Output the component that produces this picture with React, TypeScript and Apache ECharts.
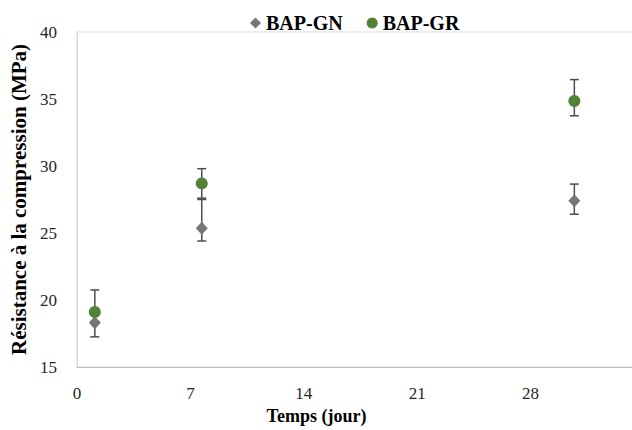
import React, { useEffect, useRef } from "react";
import * as echarts from "echarts";

const days = [1.1, 7.7, 30.7];
const xTicks = [0, 7, 14, 21, 28, 35];
const gnValues = [18.3, 25.35, 27.4];
const gnLow = [17.25, 24.4, 26.4];
const gnHigh = [19.0, 27.5, 28.65];
const grValues = [19.1, 28.7, 34.85];
const grLow = [18.4, 27.6, 33.75];
const grHigh = [20.75, 29.8, 36.45];

const FONT = "'Liberation Serif', 'DejaVu Serif', serif";
const GN_COLOR = "#777777";
const GR_COLOR = "#538135";
const ERR_COLOR = "#4d4d4d";

function errSeries(name: string, low: number[], high: number[]) {
  return {
    type: "custom",
    name: name + "-err",
    z: 1,
    silent: true,
    data: days.map((d, i) => [d, low[i], high[i]]),
    renderItem: (params: any, api: any) => {
      const lo = api.coord([api.value(0), api.value(1)]);
      const hi = api.coord([api.value(0), api.value(2)]);
      const w = 4.5;
      const style = { stroke: ERR_COLOR, lineWidth: 1.5 };
      return {
        type: "group",
        children: [
          { type: "line", shape: { x1: lo[0], y1: lo[1], x2: hi[0], y2: hi[1] }, style },
          { type: "line", shape: { x1: lo[0] - w, y1: lo[1], x2: lo[0] + w, y2: lo[1] }, style },
          { type: "line", shape: { x1: hi[0] - w, y1: hi[1], x2: hi[0] + w, y2: hi[1] }, style },
        ],
      };
    },
  };
}

export default function App() {
  const ref = useRef<HTMLDivElement>(null);
  useEffect(() => {
    if (!ref.current) return;
    const chart = echarts.init(ref.current, undefined, { renderer: "svg" });
    chart.setOption({
      animation: false,
      backgroundColor: "#fff",
      legend: {
        top: 8,
        left: 245,
        itemGap: 24,
        itemWidth: 11,
        itemHeight: 11,
        data: [
          { name: "BAP-GN", icon: "diamond" },
          { name: "BAP-GR", icon: "circle" },
        ],
        textStyle: { fontFamily: FONT, fontWeight: "bold", fontSize: 20, color: "#000" },
      },
      grid: {
        left: 77,
        top: 32,
        width: 567,
        bottom: 63,
        show: true,
        borderColor: "#d9d9d9",
        borderWidth: 1,
        containLabel: false,
        outerBoundsMode: "none",
      },
      xAxis: {
        type: "value",
        min: xTicks[0],
        max: xTicks[xTicks.length - 1],
        interval: 7,
        name: "Temps (jour)",
        nameLocation: "middle",
        nameGap: 40,
        nameTextStyle: { fontFamily: FONT, fontWeight: "bold", fontSize: 18, color: "#000", padding: [0, 0, 0, -88] },
        axisLine: { show: true, lineStyle: { color: "#bfbfbf", width: 1 } },
        axisTick: { show: false },
        splitLine: { show: false },
        axisLabel: {
          fontFamily: FONT,
          fontSize: 17,
          color: "#262626",
          margin: 18,
          showMaxLabel: false,
          formatter: (v: number) => (v >= xTicks[xTicks.length - 1] ? "" : String(v)),
        },
      },
      yAxis: {
        type: "value",
        min: 15,
        max: 40,
        interval: 5,
        name: "Résistance à la compression (MPa)",
        nameLocation: "middle",
        nameGap: 47,
        nameTextStyle: { fontFamily: FONT, fontWeight: "bold", fontSize: 21, color: "#000" },
        axisLine: { show: true, lineStyle: { color: "#d9d9d9", width: 1 } },
        axisTick: { show: false },
        splitLine: { show: false },
        axisLabel: { fontFamily: FONT, fontSize: 17, color: "#262626", margin: 20 },
      },
      series: [
        errSeries("BAP-GN", gnLow, gnHigh),
        errSeries("BAP-GR", grLow, grHigh),
        {
          type: "scatter",
          name: "BAP-GN",
          z: 3,
          symbol: "diamond",
          symbolSize: [12, 13],
          itemStyle: { color: GN_COLOR, opacity: 1 },
          data: days.map((d, i) => [d, gnValues[i]]),
        },
        {
          type: "scatter",
          name: "BAP-GR",
          z: 4,
          symbol: "circle",
          symbolSize: 12,
          itemStyle: { color: GR_COLOR, opacity: 1 },
          data: days.map((d, i) => [d, grValues[i]]),
        },
      ],
    });
    return () => chart.dispose();
  }, []);
  return <div ref={ref} style={{ width: 632, height: 430, position: "absolute", left: 0, top: 0 }} />;
}
